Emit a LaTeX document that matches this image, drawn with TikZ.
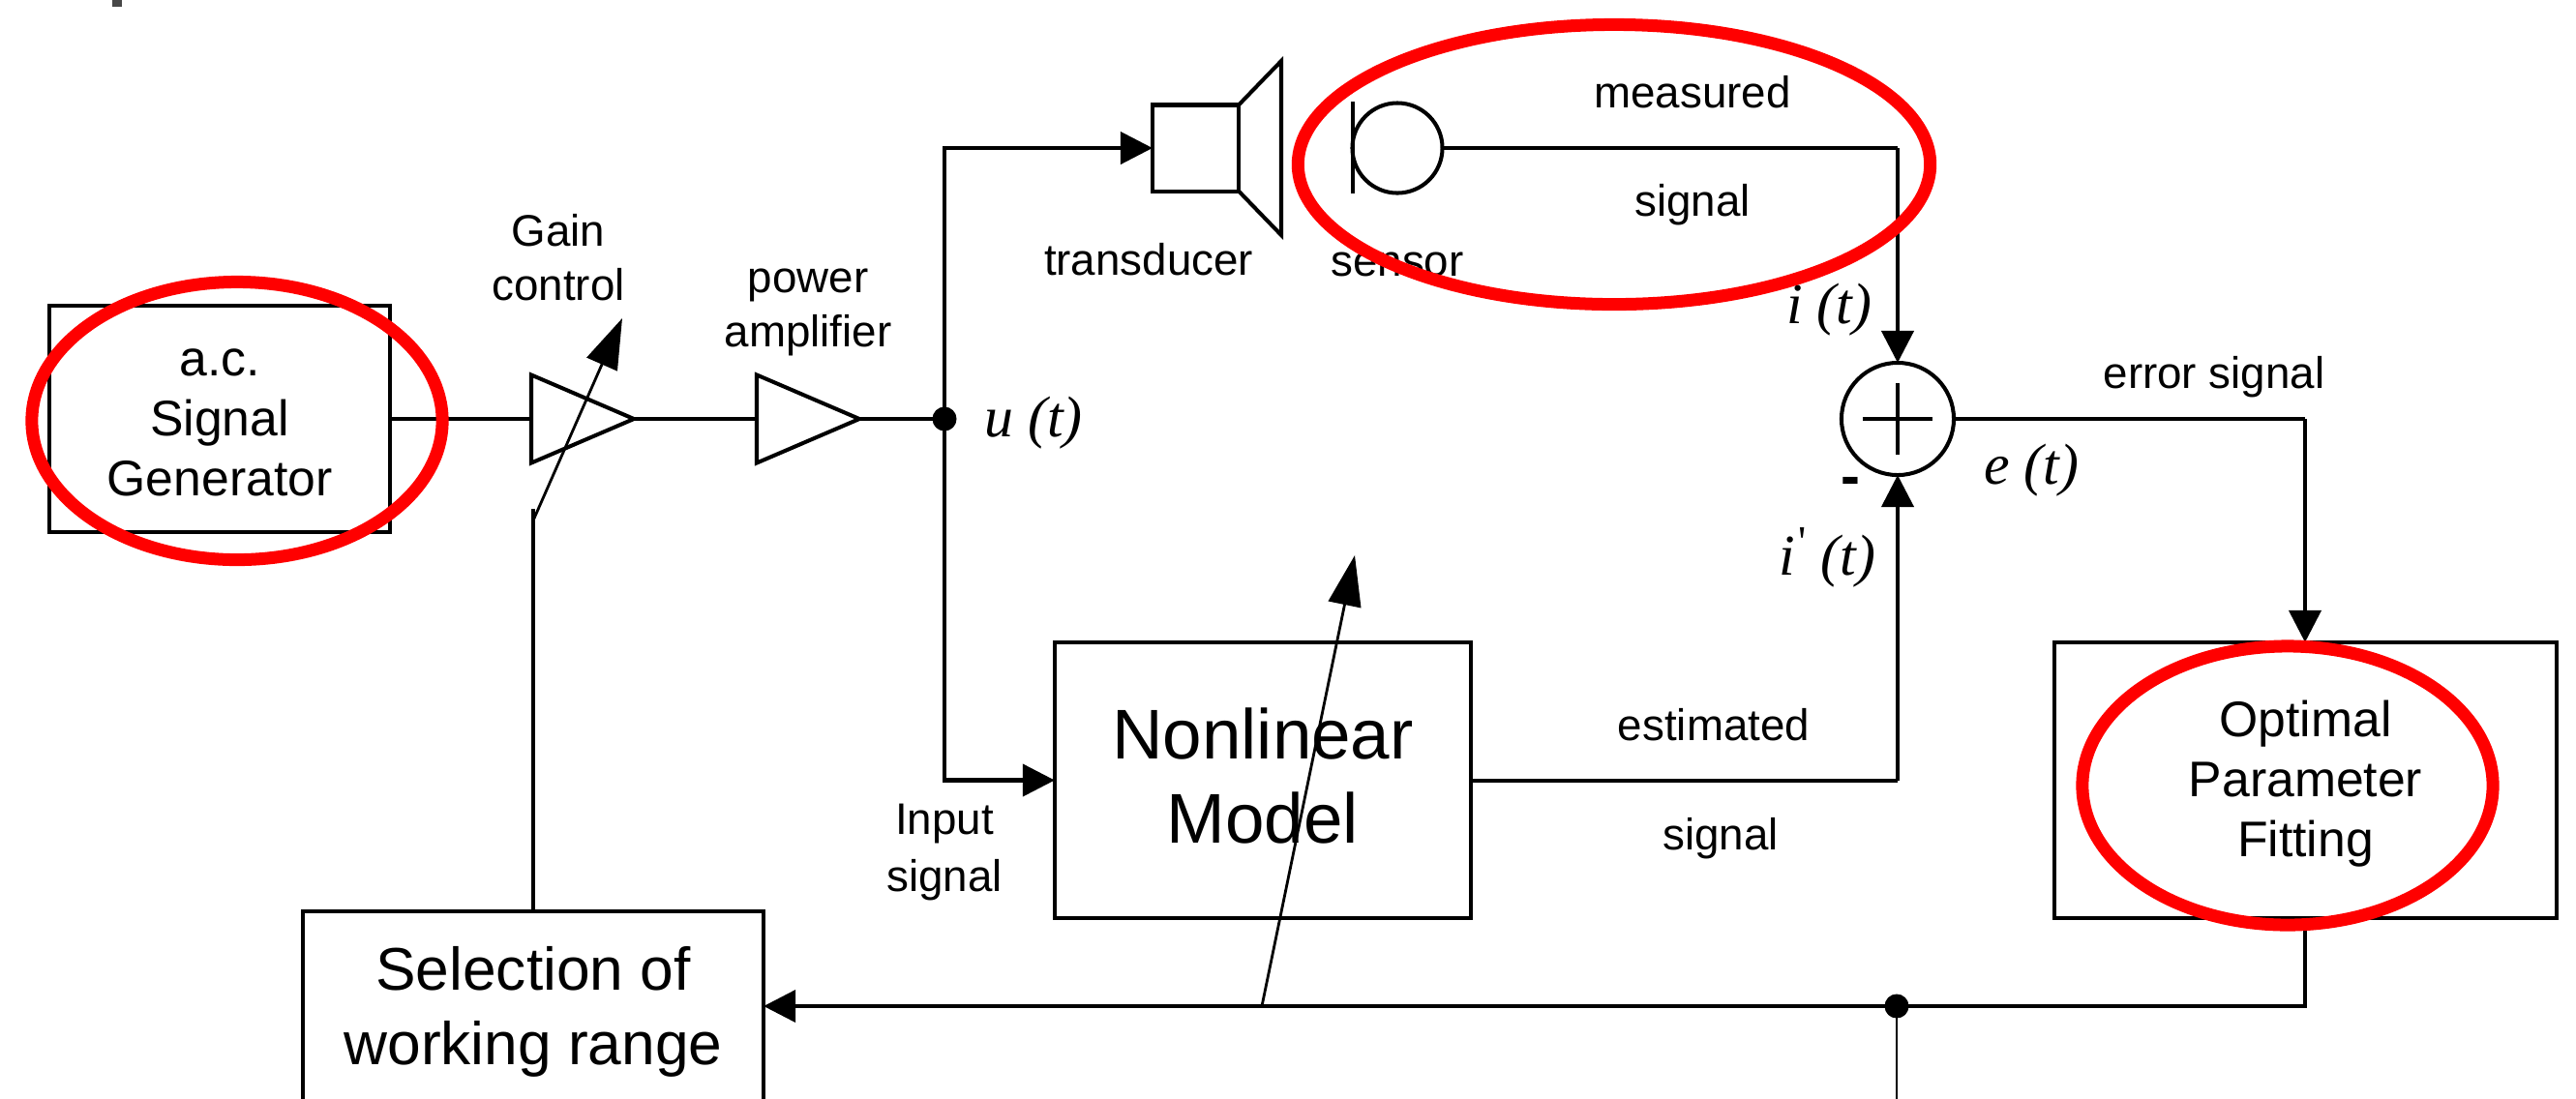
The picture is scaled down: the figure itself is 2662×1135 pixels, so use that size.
\documentclass[tikz,border=0pt]{standalone}
\usepackage{fontspec}
\setmainfont{Liberation Sans}
\newfontfamily\mathserif{Liberation Serif}
\usetikzlibrary{arrows.meta,shapes.geometric}
\definecolor{markgrey}{HTML}{484848}
\tikzset{
  wire/.style={line width=1.15pt,line cap=butt,line join=miter},
  sig/.style={wire,-{Triangle[length=.33cm,width=.33cm]}},
  adjust/.style={line width=.8pt,-{Triangle[length=.52cm,width=.34cm]}},
  boxnode/.style={draw,line width=1.15pt,rectangle,inner sep=0pt,outer sep=0pt,align=center},
  amp/.style={draw,line width=1.15pt,shape=isosceles triangle,isosceles triangle stretches,inner sep=0pt,outer sep=0pt,minimum height=1.06cm,minimum width=.91cm,anchor=lower side},
  dot/.style={circle,fill=black,inner sep=0pt,outer sep=0pt,minimum size=.25cm},
  medtext/.style={font=\fontsize{14.7}{17.6}\selectfont,align=center},
  lbl/.style={font=\fontsize{13}{15.9}\selectfont,align=center,inner sep=0pt},
  fn/.style={font=\fontsize{17}{20}\selectfont\mathserif\itshape,inner sep=0pt},
  redring/.style={draw=red,line width=.13cm},
}
\begin{document}
\begin{tikzpicture}[x=0.01cm,y=-0.01cm]
\useasboundingbox (0,0) rectangle (2662,1135);
\clip (0,0) rectangle (2662,1135);
\fill[markgrey] (116,0) rectangle (126,7);
% blocks
\node[boxnode,minimum width=3.52cm,minimum height=2.34cm] (gen) at (227,433) {};
\node[medtext,inner sep=0pt] (gentxt) at (227,437) {a.c.\\Signal\\Generator};
\node[amp] (amp1) at (549,433) {};
\node[amp] (amp2) at (782,433) {};
\node[dot] (ju) at (976,433) {};
\node[boxnode,minimum width=.89cm,minimum height=.89cm] (tr) at (1235.5,153) {};
\node[draw,line width=1.15pt,circle,inner sep=0pt,outer sep=0pt,minimum size=.93cm] (mic) at (1444,153) {};
\node[draw,line width=1.15pt,circle,inner sep=0pt,outer sep=0pt,minimum size=1.16cm] (sum) at (1961,433) {};
\node[boxnode,minimum width=4.30cm,minimum height=2.85cm] (nl) at (1305,806.5) {};
\node[font=\fontsize{20.7}{24.7}\selectfont,align=center,inner sep=0pt] (nltxt) at (1305,802) {Nonlinear\\Model};
\node[boxnode,minimum width=5.19cm,minimum height=2.85cm] (opt) at (2382.5,806.5) {};
\node[medtext,inner sep=0pt] (opttxt) at (2382.5,810) {Optimal\\Parameter\\Fitting};
\node[boxnode,minimum width=4.76cm,minimum height=1.96cm] (sel) at (551,1040) {};
\node[font=\fontsize{17.7}{21.8}\selectfont,align=center,inner sep=0pt] (seltxt) at (551,1046) {Selection of\\working range};
\node[dot] (jb) at (1960,1040) {};
% loudspeaker and microphone details
\draw[wire] (tr.north east) -- (1324,63) -- (1324,243) -- (tr.south east);
\coordinate (pt) at (1398,105);
\coordinate (pb) at (1398,200);
\draw[wire] (pt) -- (pb);
\draw[line width=1.15pt] ([xshift=-.36cm]sum.center) -- ([xshift=.36cm]sum.center);
\draw[line width=1.15pt] ([yshift=.37cm]sum.center) -- ([yshift=-.37cm]sum.center);
% connectors
\draw[wire] (gen.east) -- (amp1.lower side);
\draw[wire] (amp1.apex) -- (amp2.lower side);
\draw[wire] (amp2.apex) -- (ju.center);
\draw[sig] (ju.center) |- (tr.west);
\draw[sig] (ju.center) |- (nl.west);
\coordinate (bend1) at (1961,153);
\draw[wire] (mic.east) -- (bend1);
\draw[sig] (bend1) -- (sum.north);
\coordinate (bend2) at (1961,807);
\draw[wire] (nl.east |- bend2) -- (bend2);
\draw[sig] (bend2) -- (sum.south);
\coordinate (bend3) at (2382,433);
\draw[wire] (sum.east) -- (bend3);
\draw[sig] (bend3) -- (opt.north -| bend3);
\coordinate (bend4) at (2382,1040);
\draw[wire] (opt.south -| bend4) -- (bend4) -- (jb.center);
\draw[sig] (jb.center) -- (sel.east |- jb);
\coordinate (bot) at (1960,1140);
\draw[line width=.55pt] (jb.center) -- (bot);
\coordinate (gk) at (551,526);
\coordinate (gs) at (551,538);
\coordinate (gt) at (643,329);
\draw[wire] (sel.north) -- (gk);
\draw[adjust] (gs) -- (gt);
\coordinate (ms) at (1304,1040);
\coordinate (mt) at (1400,574);
\draw[adjust] (ms) -- (mt);
% labels
\node[lbl] (l1) at (577,266) {Gain\\control};
\node[lbl] (l2) at (835,323) {power\\amplifier};
\node[lbl] (l3) at (1187,268) {transducer};
\node[lbl] (l4) at (1444,273) {sensor};
\node[lbl] (l5) at (1749,95) {measured};
\node[lbl] (l6) at (1749,212) {signal};
\node[lbl] (l7) at (2288,390) {error signal};
\node[lbl] (l8) at (1771,749) {estimated};
\node[lbl] (l9) at (1778,867) {signal};
\node[lbl,font=\fontsize{13}{16.5}\selectfont] (l10) at (976,881) {Input\\signal};
\node[fn] (f1) at (1068,437) {u (t)};
\node[fn] (f2) at (1890,320) {i (t)};
\node[fn] (f3) at (1888,576) {i\kern.06em\raisebox{.32em}{\fontsize{13}{15}\selectfont\mathserif\upshape\textquotesingle} (t)};
\node[fn] (f4) at (2099,486) {e (t)};
\node[font=\fontsize{17}{20}\selectfont\bfseries,inner sep=0pt] (mn) at (1912,503) {-};
% red highlights
\node[redring,ellipse,inner sep=0pt,minimum width=4.24cm,minimum height=2.87cm] (r1) at (245,435) {};
\node[redring,ellipse,inner sep=0pt,minimum width=6.53cm,minimum height=2.89cm] (r2) at (1668,170) {};
\node[redring,ellipse,inner sep=0pt,minimum width=4.24cm,minimum height=2.88cm] (r3) at (2364,812) {};
\end{tikzpicture}
\end{document}
